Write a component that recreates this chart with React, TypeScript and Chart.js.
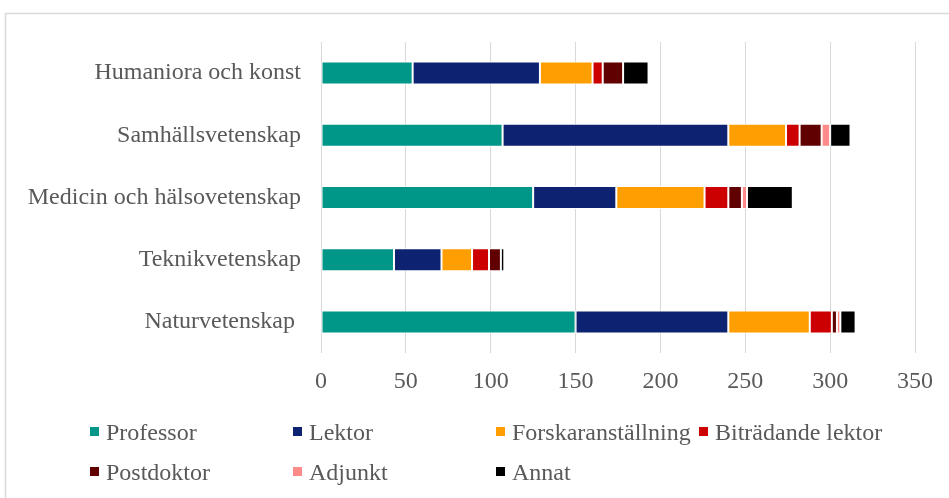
import React, { useEffect, useRef } from "react";
import { Chart, registerables } from "chart.js";

Chart.register(...registerables);

const categories = [
  "Humaniora och konst",
  "Samhällsvetenskap",
  "Medicin och hälsovetenskap",
  "Teknikvetenskap",
  "Naturvetenskap ",
];

const seriesNames = [
  "Professor",
  "Lektor",
  "Forskaranställning",
  "Biträdande lektor",
  "Postdoktor",
  "Adjunkt",
  "Annat",
];

const professor = [54, 107, 125, 43, 150];
const lektor = [75, 133, 49, 28, 90];
const forskaranstallning = [31, 34, 52, 18, 48];
const bitradandeLektor = [6, 8, 14, 10, 13];
const postdoktor = [12, 13, 8, 7, 3];
const adjunkt = [0, 5, 3, 0, 2];
const annat = [15, 12, 27, 2, 9];

const xTicks = [0, 50, 100, 150, 200, 250, 300, 350];

const seriesColors = [
  "#009688",
  "#0D2270",
  "#FF9E00",
  "#CC0000",
  "#600000",
  "#FF8A8A",
  "#000000",
];

const FONT = '"Liberation Serif", "Times New Roman", serif';
const TEXT_COLOR = "#595959";

const frameAndLegend = {
  id: "frameAndLegend",
  beforeDraw(chart: any) {
    const ctx = chart.ctx;
    ctx.save();
    ctx.fillStyle = "#ffffff";
    ctx.fillRect(0, 0, chart.width, chart.height);
    ctx.strokeStyle = "#d9d9d9";
    ctx.lineWidth = 1.5;
    ctx.strokeRect(5.5, 13.5, chart.width + 20, chart.height + 20);
    ctx.restore();
  },
  afterDraw(chart: any) {
    const ctx = chart.ctx;
    const left = 90;
    const colWidth = 203;
    const rowTop = 427;
    const rowGap = 40;
    const box = 9;
    const cols = 4;
    ctx.save();
    ctx.font = `24px ${FONT}`;
    ctx.textBaseline = "alphabetic";
    ctx.textAlign = "left";
    chart.data.datasets.forEach((ds: any, i: number) => {
      const col = i % cols;
      const row = Math.floor(i / cols);
      const x = left + col * colWidth;
      const y = rowTop + row * rowGap;
      ctx.fillStyle = ds.backgroundColor;
      ctx.fillRect(x, y, box, box);
      ctx.fillStyle = TEXT_COLOR;
      ctx.fillText(ds.label, x + 16, y + box / 2 + 8);
    });
    ctx.restore();
  },
};

export default function App() {
  const canvasRef = useRef<HTMLCanvasElement | null>(null);

  useEffect(() => {
    if (!canvasRef.current) return;
    const values = [
      professor,
      lektor,
      forskaranstallning,
      bitradandeLektor,
      postdoktor,
      adjunkt,
      annat,
    ];
    const chart = new Chart(canvasRef.current, {
      type: "bar",
      data: {
        labels: categories,
        datasets: seriesNames.map((name, i) => ({
          label: name,
          data: values[i],
          backgroundColor: seriesColors[i],
          borderColor: "#ffffff",
          borderWidth: 1,
          borderSkipped: false,
          categoryPercentage: 1,
          barPercentage: 0.37,
        })),
      },
      options: {
        indexAxis: "y",
        responsive: false,
        animation: false,
        layout: { padding: { top: 42, right: 34, bottom: 95, left: 0 } },
        plugins: {
          legend: { display: false },
          tooltip: { enabled: false },
        },
        scales: {
          x: {
            stacked: true,
            min: 0,
            max: 350,
            afterBuildTicks(scale: any) {
              scale.ticks = xTicks.map((v) => ({ value: v }));
            },
            afterFit(scale: any) {
              scale.height = 50;
            },
            grid: { color: "#d9d9d9", lineWidth: 1, drawTicks: false },
            border: { display: false },
            ticks: {
              color: TEXT_COLOR,
              font: { family: FONT, size: 24 },
              padding: 14,
            },
          },
          y: {
            stacked: true,
            afterFit(scale: any) {
              scale.width = 321;
            },
            grid: { display: false, drawTicks: false },
            border: { display: false },
            ticks: {
              color: TEXT_COLOR,
              font: { family: FONT, size: 24 },
              padding: 20,
            },
          },
        },
      },
      plugins: [frameAndLegend],
    });
    return () => chart.destroy();
  }, []);

  return (
    <div style={{ position: "fixed", left: 0, top: 0, width: 949, height: 498 }}>
      <canvas ref={canvasRef} width={949} height={498} />
    </div>
  );
}
